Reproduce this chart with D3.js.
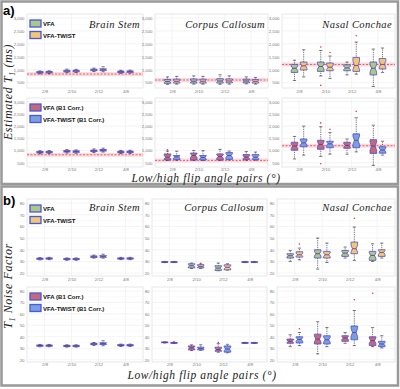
<!DOCTYPE html>
<html><head><meta charset="utf-8">
<script src="https://cdn.jsdelivr.net/npm/d3@7"></script>
<style>body{margin:0;background:#fff}svg{display:block}</style>
</head><body><svg id="c" width="400" height="389"></svg>
<script>
const categories = ["2/8","2/10","2/12","4/8"];
const regions = ["Brain Stem","Corpus Callosum","Nasal Conchae"];
const seriesRaw = ["VFA","VFA-TWIST"];
const seriesCorr = ["VFA (B1 Corr.)","VFA-TWIST (B1 Corr.)"];
const t1Ticks = [500,1000,1500,2000,2500,3000];
const noiseTicks = [20,30,40,50,60,70,80];
const t1Reference = [830, 600, 1200];

// rows: [category, series index, low whisker, q1, median, q3, high whisker, outliers]
const t1BrainStem = [
  ["2/8",0,840,870,900,925,950,[]],["2/8",1,845,875,905,930,955,[]],
  ["2/10",0,880,915,945,975,1020,[]],["2/10",1,890,920,950,975,1010,[]],
  ["2/12",0,930,960,990,1020,1060,[]],["2/12",1,920,965,1000,1035,1110,[]],
  ["4/8",0,860,890,920,945,975,[]],["4/8",1,865,895,925,950,980,[]]];
const t1CorpusCallosum = [
  ["2/8",0,430,470,540,620,720,[]],["2/8",1,440,480,550,630,740,[]],
  ["2/10",0,440,480,550,640,760,[]],["2/10",1,440,480,550,630,740,[]],
  ["2/12",0,430,480,560,650,800,[]],["2/12",1,440,490,560,640,760,[]],
  ["4/8",0,450,490,560,630,720,[]],["4/8",1,440,480,550,620,700,[]]];
const t1NasalConchae = [
  ["2/8",0,581,892,1054,1203,1365,[]],["2/8",1,716,986,1149,1297,1770,[]],
  ["2/10",0,757,932,1122,1297,1743,[1878,392]],["2/10",1,662,959,1095,1257,1527,[1662]],
  ["2/12",0,797,959,1068,1189,1297,[]],["2/12",1,824,932,1162,1473,2068,[2311]],
  ["4/8",0,350,797,1054,1297,1797,[]],["4/8",1,892,1027,1203,1432,1838,[]]];
const t1BrainStemB1 = [
  ["2/8",0,870,905,935,965,995,[]],["2/8",1,875,910,940,965,1000,[]],
  ["2/10",0,900,940,970,1000,1040,[]],["2/10",1,895,930,960,990,1030,[]],
  ["2/12",0,920,960,990,1020,1070,[]],["2/12",1,940,980,1015,1045,1100,[]],
  ["4/8",0,880,915,945,975,1010,[]],["4/8",1,885,920,950,980,1015,[]]];
const t1CorpusCallosumB1 = [
  ["2/8",0,600,620,730,865,980,[1030]],["2/8",1,610,635,740,800,975,[]],
  ["2/10",0,600,620,800,900,1000,[]],["2/10",1,600,620,720,800,1000,[]],
  ["2/12",0,600,620,760,865,1050,[]],["2/12",1,620,640,800,920,980,[]],
  ["4/8",0,610,635,730,840,960,[]],["4/8",1,610,635,730,840,940,[]]];
const t1NasalConchaeB1 = [
  ["2/8",0,658,1013,1184,1342,1579,[]],["2/8",1,816,1158,1316,1474,2000,[]],
  ["2/10",0,763,1053,1250,1421,1974,[2132,460]],["2/10",1,855,1118,1276,1382,1737,[1868]],
  ["2/12",0,855,1092,1210,1342,1474,[]],["2/12",1,947,1118,1421,1684,2342,[2605]],
  ["4/8",0,395,882,1184,1447,2039,[]],["4/8",1,816,895,1026,1158,1382,[]]];

const nfBrainStem = [
  ["2/8",0,31.3,31.8,32.3,32.8,33.3,[]],["2/8",1,31.5,32,32.5,33,33.5,[]],
  ["2/10",0,31,31.5,32,32.5,33,[]],["2/10",1,31,31.5,32,32.5,33,[]],
  ["2/12",0,32.8,33.4,34,34.7,35.4,[]],["2/12",1,32.8,33.5,34.2,35,36.2,[]],
  ["4/8",0,31.5,32,32.5,33,33.5,[]],["4/8",1,31.5,32,32.5,33,33.5,[]]];
const nfCorpusCallosum = [
  ["2/8",0,29,29.2,29.4,29.7,30,[]],["2/8",1,29,29.2,29.4,29.7,30,[]],
  ["2/10",0,24,24.5,26.3,28,28.6,[]],["2/10",1,24,24.5,25.7,27.2,27.8,[28.4]],
  ["2/12",0,22,22.3,24.3,26.3,28.6,[]],["2/12",1,22.5,22.8,25,27.1,28,[]],
  ["4/8",0,29,29.2,29.4,29.7,30,[]],["4/8",1,29,29.2,29.4,29.7,30,[]]];
const nfNasalConchae = [
  ["2/8",0,30,32.9,34.9,36.6,39.4,[]],["2/8",1,31.4,33.7,35.7,38.3,41.4,[44.9]],
  ["2/10",0,23.4,32.9,36.6,40,50,[]],["2/10",1,29.1,32.9,35.7,38.6,45.7,[]],
  ["2/12",0,32.9,34.3,37.1,39.4,42.3,[]],["2/12",1,30.9,36.6,40.9,46.6,59.4,[67]],
  ["4/8",0,30,30.9,35.1,38.6,45.1,[]],["4/8",1,32.9,34.3,37.7,40,45.7,[]]];
const nfBrainStemB1 = [
  ["2/8",0,31.3,31.8,32.3,32.8,33.3,[]],["2/8",1,31.3,31.8,32.3,32.8,33.3,[]],
  ["2/10",0,31,31.5,32,32.5,33,[]],["2/10",1,31,31.5,32,32.5,33,[]],
  ["2/12",0,32.5,33.1,33.7,34.3,35,[]],["2/12",1,32.2,33.3,34,34.8,36.5,[]],
  ["4/8",0,31.6,32.1,32.6,33.1,33.6,[]],["4/8",1,31.6,32.1,32.6,33.1,33.6,[]]];
const nfCorpusCallosumB1 = [
  ["2/8",0,34.6,34.8,35.1,35.4,35.6,[]],["2/8",1,34.2,34.4,34.6,34.9,35.1,[35.8]],
  ["2/10",0,28,28.6,30.3,32,33,[]],["2/10",1,28.2,28.6,29.7,30.9,33,[]],
  ["2/12",0,26.5,27.4,28.9,30.9,34,[34.9]],["2/12",1,26,26.6,29.4,32,33.4,[]],
  ["4/8",0,34.2,34.4,34.6,34.9,35.1,[]],["4/8",1,34.2,34.4,34.6,34.9,35.1,[]]];
const nfNasalConchaeB1 = [
  ["2/8",0,31.4,34.3,36,38,41.7,[]],["2/8",1,32.3,34.6,37.7,40,43.7,[47]],
  ["2/10",0,25.1,33.7,38,42.3,53.1,[]],["2/10",1,31.4,33.7,37.4,40.9,48,[]],
  ["2/12",0,34.3,36,38.9,40.9,43.7,[]],["2/12",1,32.3,37.4,43.7,49.4,62.9,[72.3]],
  ["4/8",0,31.4,32.3,36.6,40,48,[78]],["4/8",1,30.3,31.4,33.7,36,40.9,[]]];

const fillRaw = ["#a9c985","#f1c772"];
const fillCorr = ["#c26a7a","#78a0df"];
const boxStroke = "#4f4fd6";

const svg = d3.select("#c");
const FONT_SERIF = "'Liberation Serif','DejaVu Serif',serif";
const FONT_SANS = "'Liberation Sans',Arial,sans-serif";

svg.append("rect").attr("x",1.5).attr("y",1.5).attr("width",396.5).attr("height",182.5)
  .attr("fill","none").attr("stroke","#999").attr("stroke-width",2.5);
svg.append("rect").attr("x",1.5).attr("y",186.5).attr("width",396.5).attr("height",199)
  .attr("fill","none").attr("stroke","#999").attr("stroke-width",2.5);

function drawPanel(o){
  const g = svg.append("g");
  const x = d3.scalePoint().domain(categories).range([o.x0,o.x1]).padding(0.65);
  const off = d3.scalePoint().domain([0,1]).range([-4.6,4.6]);
  const y = d3.scaleLinear().domain(o.domain).range([o.bottom,o.top]);
  g.append("rect").attr("x",o.x0).attr("y",o.top).attr("width",o.x1-o.x0).attr("height",o.bottom-o.top)
    .attr("fill","#fff").attr("stroke","#e2e2e2").attr("stroke-width",0.8);
  const minor = o.ticks.slice(0,-1).map((t,i)=>(t+o.ticks[i+1])/2);
  g.selectAll(".gm").data(minor).join("line").attr("x1",o.x0).attr("x2",o.x1)
    .attr("y1",d=>y(d)).attr("y2",d=>y(d)).attr("stroke","#f6f6f6").attr("stroke-width",0.5);
  g.selectAll(".gy").data(o.ticks).join("line").attr("x1",o.x0).attr("x2",o.x1)
    .attr("y1",d=>y(d)).attr("y2",d=>y(d)).attr("stroke","#ececec").attr("stroke-width",0.6);
  g.selectAll(".gx").data(categories).join("line").attr("x1",d=>x(d)).attr("x2",d=>x(d))
    .attr("y1",o.top).attr("y2",o.bottom).attr("stroke","#ececec").attr("stroke-width",0.6);
  if (o.ref != null){
    g.append("rect").attr("x",o.x0).attr("width",o.x1-o.x0).attr("y",y(o.ref+80))
      .attr("height",y(o.ref-80)-y(o.ref+80)).attr("fill","#fad9dd");
    g.append("line").attr("x1",o.x0).attr("x2",o.x1).attr("y1",y(o.ref)).attr("y2",y(o.ref))
      .attr("stroke","#d24a55").attr("stroke-width",0.8).attr("stroke-dasharray","2,1.5");
  }
  const ya = g.append("g").attr("transform",`translate(${o.x0},0)`)
    .call(d3.axisLeft(y).tickValues(o.ticks).tickSize(0).tickPadding(2.5));
  ya.select(".domain").remove();
  ya.selectAll("text").attr("font-size",4.3).attr("fill","#777").attr("font-family",FONT_SANS);
  const xa = g.append("g").attr("transform",`translate(0,${o.labelY})`)
    .call(d3.axisBottom(x).tickSize(0).tickPadding(0));
  xa.select(".domain").remove();
  xa.selectAll("text").attr("font-size",4.3).attr("fill","#777").attr("font-family",FONT_SANS);
  const W = 6.6;
  o.data.forEach(r=>{
    const [cat,s,lo,q1,med,q3,hi,outs] = r;
    const cx = x(cat)+off(s);
    const L = cx-W/2, R = cx+W/2;
    const yq1=y(q1), yq3=y(q3), ym=y(med);
    const n = Math.abs(yq1-yq3)*0.3, ins = W*0.22;
    g.append("line").attr("x1",cx).attr("x2",cx).attr("y1",yq3).attr("y2",y(hi))
      .attr("stroke","#222").attr("stroke-width",0.7).attr("stroke-dasharray","0.9,0.9");
    g.append("line").attr("x1",cx).attr("x2",cx).attr("y1",yq1).attr("y2",y(lo))
      .attr("stroke","#222").attr("stroke-width",0.7).attr("stroke-dasharray","0.9,0.9");
    [hi,lo].forEach(v=>g.append("line").attr("x1",cx-1.6).attr("x2",cx+1.6).attr("y1",y(v)).attr("y2",y(v))
      .attr("stroke","#222").attr("stroke-width",0.6));
    const pts = [[L,yq3],[R,yq3],[R,ym-n],[R-ins,ym],[R,ym+n],[R,yq1],[L,yq1],[L,ym+n],[L+ins,ym],[L,ym-n]];
    g.append("path").attr("d","M"+pts.map(p=>p.join(",")).join("L")+"Z")
      .attr("fill",o.colors[s]).attr("stroke",boxStroke).attr("stroke-width",0.8);
    g.append("line").attr("x1",L+ins).attr("x2",R-ins).attr("y1",ym).attr("y2",ym)
      .attr("stroke","#6b2f7a").attr("stroke-width",0.8);
    outs.forEach(v=>g.append("circle").attr("cx",cx).attr("cy",y(v)).attr("r",0.8).attr("fill","#e23a3a"));
  });
  if (o.title){
    g.append("text").attr("x",o.x1-3).attr("y",o.titleY).attr("text-anchor","end")
      .attr("font-family",FONT_SERIF).attr("font-style","italic").attr("font-size",10.5)
      .attr("letter-spacing",0.4).attr("fill","#222").text(o.title);
  }
  if (o.legend){
    o.legend.forEach((lab,i)=>{
      const ly = o.legendY + i*11.5;
      g.append("rect").attr("x",o.x0+3).attr("y",ly).attr("width",11).attr("height",7)
        .attr("fill",o.colors[i]).attr("stroke","#4a55e0").attr("stroke-width",1.3);
      g.append("text").attr("x",o.x0+16).attr("y",ly+6).attr("font-family",FONT_SANS)
        .attr("font-weight","bold").attr("font-size",6).attr("fill","#111").text(lab);
    });
  }
}

const colsA = [[27,143],[155,268],[282,395]];
const colsB = [[27,143],[152,267],[277,395]];
const rowsA = [
  {top:14,bottom:88,domain:[290,3155],labelY:90},
  {top:98,bottom:167,domain:[330,3150],labelY:168}];
const rowsB = [
  {top:199,bottom:276,domain:[17.5,83.5],labelY:278},
  {top:287,bottom:362,domain:[18,83.4],labelY:363}];

const t1Data = [[t1BrainStem,t1CorpusCallosum,t1NasalConchae],[t1BrainStemB1,t1CorpusCallosumB1,t1NasalConchaeB1]];
const nfData = [[nfBrainStem,nfCorpusCallosum,nfNasalConchae],[nfBrainStemB1,nfCorpusCallosumB1,nfNasalConchaeB1]];

[0,1].forEach(ri=>[0,1,2].forEach(ci=>{
  drawPanel({x0:colsA[ci][0],x1:colsA[ci][1],...rowsA[ri],ticks:t1Ticks,data:t1Data[ri][ci],
    colors: ri===0?fillRaw:fillCorr, ref:t1Reference[ci],
    title: ri===0?regions[ci]:null, titleY:28,
    legend: ci===0?(ri===0?seriesRaw:seriesCorr):null, legendY: ri===0?20:104});
  drawPanel({x0:colsB[ci][0],x1:colsB[ci][1],...rowsB[ri],ticks:noiseTicks,data:nfData[ri][ci],
    colors: ri===0?fillRaw:fillCorr, ref:null,
    title: ri===0?regions[ci]:null, titleY:211,
    legend: ci===0?(ri===0?seriesRaw:seriesCorr):null, legendY: ri===0?205:293});
}));

svg.append("text").attr("x",3).attr("y",15).attr("font-family",FONT_SANS).attr("font-weight","bold")
  .attr("font-size",13).text("a)");
svg.append("text").attr("x",3).attr("y",205).attr("font-family",FONT_SANS).attr("font-weight","bold")
  .attr("font-size",13).text("b)");

function yTitle(cx,cy,parts){
  const t = svg.append("text").attr("transform",`translate(${cx},${cy}) rotate(-90)`)
    .attr("text-anchor","middle").attr("font-family",FONT_SERIF).attr("font-style","italic")
    .attr("font-size",12).attr("letter-spacing",0.6).attr("fill","#222");
  parts.forEach(p=>{
    const ts = t.append("tspan").text(p[0]);
    if (p[1]) ts.attr("font-size",8).attr("dy",2.5);
    else if (p[2]) ts.attr("dy",-2.5);
  });
}
yTitle(12,92,[["Estimated T"],["1",true],[" (ms)",false,true]]);
yTitle(12,286,[["T"],["1",true],[" Noise Factor",false,true]]);

[182,379].forEach((yy,i)=>{
  svg.append("text").attr("x",i===0?206:202).attr("y",yy).attr("text-anchor","middle")
    .attr("font-family",FONT_SERIF).attr("font-style","italic").attr("font-size",11.5)
    .attr("letter-spacing",0.6).attr("fill","#222").text("Low/high flip angle pairs (°)");
});
</script></body></html>
